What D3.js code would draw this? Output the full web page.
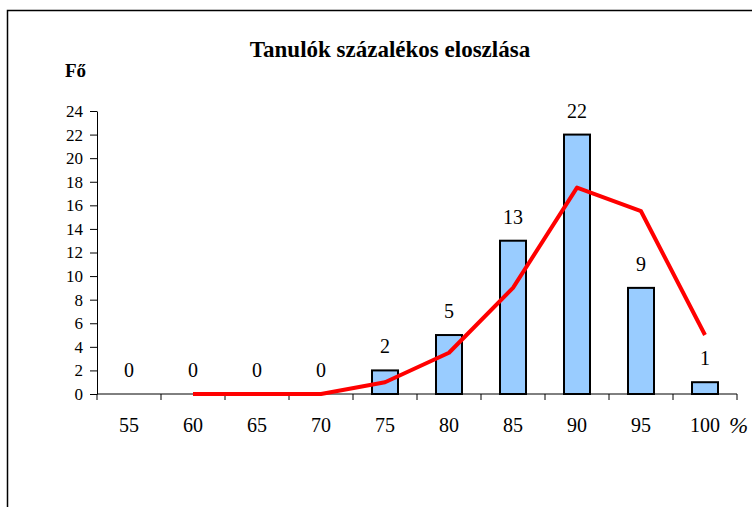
<!DOCTYPE html>
<html>
<head>
<meta charset="utf-8">
<script src="https://cdn.jsdelivr.net/npm/d3@7"></script>
<style>
  body { margin: 0; background: #fff; }
  text { font-family: "Liberation Serif", "Times New Roman", serif; }
</style>
</head>
<body>
<svg id="chart"></svg>
<script>
// data
var categories = ["55", "60", "65", "70", "75", "80", "85", "90", "95", "100"];
var counts = [0, 0, 0, 0, 2, 5, 13, 22, 9, 1];
var curve = [null, 0, 0, 0, 1, 3.5, 9, 17.5, 15.5, 5];
var yTicks = [0, 2, 4, 6, 8, 10, 12, 14, 16, 18, 20, 22, 24];

var rows = categories.map(function(c, i) {
    return { cat: c, count: counts[i], curve: curve[i] };
});

var width = 752, height = 507;
var svg = d3.select("#chart")
    .attr("width", width)
    .attr("height", height);

// outer frame
svg.append("rect")
    .attr("x", 7.5)
    .attr("y", 10.5)
    .attr("width", 800)
    .attr("height", 600)
    .style("fill", "none")
    .style("stroke", "black")
    .style("stroke-width", 1.5);

var plotLeft = 97, plotRight = 737, plotTop = 111, plotBottom = 394;

var x = d3.scaleBand()
    .domain(categories)
    .range([plotLeft, plotRight]);

var y = d3.scaleLinear()
    .domain([0, 24])
    .range([plotBottom, plotTop]);

function cx(d) { return x(d.cat) + x.bandwidth() / 2; }

// title
svg.append("text")
    .attr("x", 390)
    .attr("y", 57)
    .attr("text-anchor", "middle")
    .style("font-size", "23px")
    .style("font-weight", "bold")
    .text("Tanulók százalékos eloszlása");

svg.append("text")
    .attr("x", 65)
    .attr("y", 77)
    .style("font-size", "19px")
    .style("font-weight", "bold")
    .text("Fő");

// y axis
var yAxis = svg.append("g")
    .attr("transform", "translate(" + plotLeft + ",0)")
    .call(d3.axisLeft(y).tickValues(yTicks).tickSize(7).tickPadding(7).tickSizeOuter(0));
yAxis.attr("font-family", null).attr("font-size", null);
yAxis.selectAll("text")
    .style("font-family", "'Liberation Serif', serif")
    .style("font-size", "17px")
    .style("fill", "black");
yAxis.selectAll("line, path").style("stroke", "black");

// x axis: ticks between categories
var xAxis = svg.append("g")
    .attr("transform", "translate(0," + plotBottom + ")");
xAxis.append("line")
    .attr("x1", plotLeft).attr("x2", plotRight)
    .style("stroke", "black");
xAxis.selectAll("line.tick")
    .data(categories.concat([""]))
    .enter().append("line")
    .attr("class", "tick")
    .attr("x1", function(d, i) { return plotLeft + i * x.step(); })
    .attr("x2", function(d, i) { return plotLeft + i * x.step(); })
    .attr("y1", 0).attr("y2", 6)
    .style("stroke", "black");
xAxis.selectAll("text")
    .data(rows)
    .enter().append("text")
    .attr("x", cx)
    .attr("y", 38)
    .attr("text-anchor", "middle")
    .style("font-size", "20px")
    .text(function(d) { return d.cat; });

svg.append("text")
    .attr("x", 729)
    .attr("y", 433)
    .style("font-size", "23px")
    .style("font-style", "italic")
    .text("%");

// bars
var barW = 26;
svg.selectAll("rect.bar")
    .data(rows.filter(function(d) { return d.count > 0; }))
    .enter().append("rect")
    .attr("class", "bar")
    .attr("x", function(d) { return cx(d) - barW / 2; })
    .attr("y", function(d) { return y(d.count); })
    .attr("width", barW)
    .attr("height", function(d) { return plotBottom - y(d.count); })
    .style("fill", "#99CCFF")
    .style("stroke", "black")
    .style("stroke-width", 2);

// value labels
svg.selectAll("text.val")
    .data(rows)
    .enter().append("text")
    .attr("class", "val")
    .attr("x", cx)
    .attr("y", function(d) { return y(d.count) - 17; })
    .attr("text-anchor", "middle")
    .style("font-size", "20px")
    .text(function(d) { return d.count; });

// red curve
var line = d3.line()
    .defined(function(d) { return d.curve != null; })
    .x(cx)
    .y(function(d) { return y(d.curve); });

svg.append("path")
    .datum(rows)
    .attr("d", line)
    .style("fill", "none")
    .style("stroke", "#FF0000")
    .style("stroke-width", 4)
    .style("stroke-linejoin", "round");
</script>
</body>
</html>
